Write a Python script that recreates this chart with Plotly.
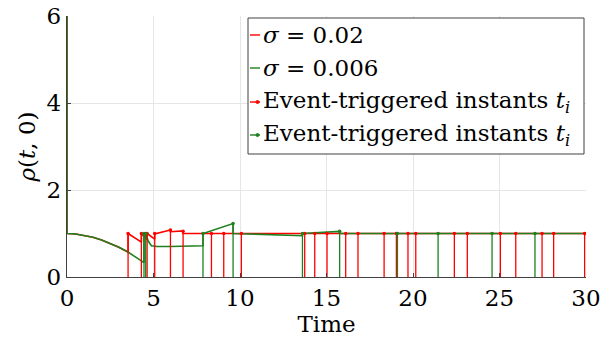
import plotly.graph_objects as go

# ---------------- data ----------------
# sigma = 0.02 trajectory (duplicate time = jump at an event)
t_red = [0, 0, 0.5, 1, 1.5, 2, 2.5, 3, 3.53, 3.53, 4.30, 4.30, 4.63, 4.63, 5.07, 5.07,
         5.98, 5.98, 6.71, 6.71, 10.08, 13.74, 20.16, 30]
rho_red = [6, 1.0, 0.987, 0.957, 0.913, 0.852, 0.776, 0.684, 0.57, 1.0, 0.80, 1.0, 0.86, 1.0,
           0.87, 0.99, 1.08, 1.04, 1.06, 1.0, 1.0, 1.0, 1.0, 1.0]

# sigma = 0.006 trajectory
t_green = [0, 0, 0.5, 1, 1.5, 2, 2.5, 3, 3.5, 4, 4.45, 4.45, 4.55, 4.55, 4.7, 4.88, 5.2, 6, 7,
           7.86, 7.86, 9.60, 9.60, 13.61, 13.61, 15.76, 15.76, 30]
rho_green = [6, 1.0, 0.987, 0.957, 0.913, 0.852, 0.776, 0.684, 0.58, 0.455, 0.33, 1.0, 0.93, 1.0,
             0.82, 0.72, 0.70, 0.70, 0.71, 0.72, 1.0, 1.23, 1.0, 0.95, 1.0, 1.05, 1.0, 1.0]

# event-triggered instants
ev_red_t = [3.53, 4.30, 4.63, 5.07, 5.98, 6.71, 8.35, 9.06, 10.08, 13.74, 14.32, 15.03, 16.11,
            16.82, 18.33, 19.04, 19.71, 20.16, 22.39, 23.14, 25.05, 25.94, 27.46, 28.13, 29.92]
ev_red_h = [1.0, 1.0, 1.0, 1.0, 1.08, 1.05, 1.0, 1.0, 1.0, 1.0, 1.0, 1.0, 1.0,
            1.0, 1.0, 1.0, 1.0, 1.0, 1.0, 1.0, 1.0, 1.0, 1.0, 1.0, 1.0]
ev_green_t = [4.45, 4.55, 7.86, 9.60, 13.61, 15.76, 19.10, 21.45, 24.57, 27.05]
ev_green_h = [1.0, 1.0, 1.0, 1.23, 1.0, 1.05, 1.0, 1.0, 1.0, 1.0]

x_ticks = [0, 5, 10, 15, 20, 25, 30]
y_ticks = [0, 2, 4, 6]
legend_labels = ["<i>σ</i> = 0.02", "<i>σ</i> = 0.006",
                 "Event-triggered instants <i>t</i><sub><i>i</i></sub>",
                 "Event-triggered instants <i>t</i><sub><i>i</i></sub>"]

RED = "#ff0000"
GREEN = "#1e801e"
FONT = "DejaVu Serif, Liberation Serif, serif"


def stems(ts, hs):
    xs, ys = [], []
    for t, h in zip(ts, hs):
        xs += [t, t, None]
        ys += [0, h, None]
    return xs, ys


fig = go.Figure()
fig.add_trace(go.Scatter(x=t_red, y=rho_red, mode="lines",
                         line=dict(color=RED, width=1.6), showlegend=False))
fig.add_trace(go.Scatter(x=t_green, y=rho_green, mode="lines",
                         line=dict(color=GREEN, width=1.6), showlegend=False))
for ts, hs, c in [(ev_red_t, ev_red_h, RED), (ev_green_t, ev_green_h, GREEN)]:
    sx, sy = stems(ts, hs)
    fig.add_trace(go.Scatter(x=sx, y=sy, mode="lines", line=dict(color=c, width=1.3),
                             showlegend=False, connectgaps=False))
    fig.add_trace(go.Scatter(x=ts, y=hs, mode="markers",
                             marker=dict(color=c, size=3.5), showlegend=False))

# ---------------- manual legend ----------------
L, R, T, B = 67, 586, 16, 277
def px(x):
    return (x - L) / (R - L)
def py(y):
    return (B - y) / (B - T)

fig.add_shape(type="rect", xref="paper", yref="paper",
              x0=px(248), x1=px(584), y0=py(154), y1=py(18),
              line=dict(color="#404040", width=1), fillcolor="white", layer="above")
rows = [35, 68, 102, 135]
cols = [RED, GREEN, RED, GREEN]
for i, (yy, c, lab) in enumerate(zip(rows, cols, legend_labels)):
    fig.add_shape(type="line", xref="paper", yref="paper",
                  x0=px(250), x1=px(260), y0=py(yy), y1=py(yy),
                  line=dict(color=c, width=1.4), layer="above")
    if i >= 2:
        fig.add_shape(type="circle", xref="paper", yref="paper",
                      x0=px(256), x1=px(259), y0=py(yy + 1.5), y1=py(yy - 1.5),
                      line=dict(color=c, width=1), fillcolor=c, layer="above")
    fig.add_annotation(xref="paper", yref="paper", x=px(261), y=py(yy), text=lab,
                       showarrow=False, xanchor="left", yanchor="middle",
                       font=dict(family=FONT, size=23, color="black"))

fig.update_layout(
    width=611, height=343,
    margin=dict(l=L, r=611 - R, t=T, b=343 - B, autoexpand=False),
    paper_bgcolor="white", plot_bgcolor="white",
    font=dict(family=FONT, size=23, color="black"),
    showlegend=False,
)
fig.update_xaxes(range=[0, 30], tickvals=x_ticks, ticktext=[str(v) for v in x_ticks],
                 automargin=False,
                 showgrid=True, gridcolor="#e6e6e6", gridwidth=1,
                 showline=True, linecolor="#404040", linewidth=1.3,
                 ticks="inside", ticklen=4, tickcolor="#404040",
                 zeroline=False, title=dict(text="Time", standoff=0,
                                            font=dict(family=FONT, size=23)),
                 tickfont=dict(family=FONT, size=23))
fig.update_yaxes(range=[0, 6], tickvals=y_ticks, ticktext=[str(v) for v in y_ticks],
                 automargin=False,
                 showgrid=True, gridcolor="#e6e6e6", gridwidth=1,
                 showline=True, linecolor="#404040", linewidth=1.3,
                 ticks="inside", ticklen=4, tickcolor="#404040",
                 zeroline=False,
                 title=dict(text="<i>ρ</i>(<i>t</i>, 0)", standoff=4,
                            font=dict(family=FONT, size=23)),
                 tickfont=dict(family=FONT, size=23))

fig.write_html("out.html")
